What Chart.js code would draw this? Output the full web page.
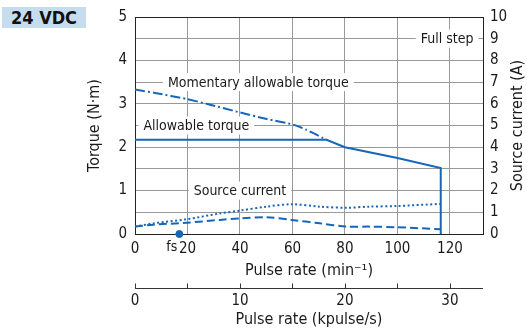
<!DOCTYPE html>
<html>
<head>
<meta charset="utf-8">
<script src="https://cdn.jsdelivr.net/npm/chart.js@4.4.0/dist/chart.umd.min.js"></script>
<style>
  html, body { margin:0; padding:0; background:#fff; }
  #wrap { position:relative; width:527px; height:329px; }
  #badge {
    position:absolute; left:2px; top:7px; width:84px; height:21px;
    background:#c6ddef; color:#111; text-align:center; line-height:22px;
    font:bold 18px "Liberation Sans Narrow", "DejaVu Sans Condensed", sans-serif;
  }
</style>
</head>
<body>
<div id="wrap">
  <canvas id="graphicFirst" width="527" height="329"></canvas>
  <div id="badge">24 VDC</div>
</div>
<script>
const FONT = '"Liberation Sans Narrow", "DejaVu Sans Condensed", sans-serif';
const BLUE = '#1767b8';

//-----Data (pulse rate min^-1, torque N·m, current A)
const allowRate = [0, 73, 80, 100, 116.5, 116.5];
const allowTorque = [2.17, 2.17, 2.0, 1.75, 1.52, 0];

const momentRate = [0, 7.6, 19.7, 28.6, 40, 50.2, 60.3, 65.4, 71.7, 73];
const momentTorque = [3.33, 3.25, 3.11, 2.98, 2.80, 2.65, 2.52, 2.40, 2.21, 2.17];

const currentRate = [0, 7, 19.7, 32.4, 40, 50, 59.7, 70.5, 80.6, 89, 100, 116.5];
const currentFull = [0.34, 0.49, 0.68, 0.95, 1.08, 1.26, 1.37, 1.26, 1.21, 1.26, 1.29, 1.39];
const currentHalf = [0.34, 0.43, 0.52, 0.65, 0.72, 0.77, 0.65, 0.49, 0.34, 0.34, 0.31, 0.22];

const fsRate = 16.9;
const rateMax = 132.6;
const kpulsePerRate = 0.25;

//-----Notes on the plot
const noteText = ['Momentary allowable torque', 'Allowable torque', 'Source current', 'Full step'];
const noteRate = [47, 23.4, 40, 118.9];
const noteTorque = [3.5, 2.5, 1.0, 4.5];

function toPoints(xs, ys){
  return xs.map((v, i) => ({x: v, y: ys[i]}));
}

const overlay = {
  id: 'overlay',
  beforeDatasetsDraw(chart){
    const ctx = chart.ctx;
    const sx = chart.scales.x, sy = chart.scales.y;
    ctx.save();
    ctx.font = '14px ' + FONT;
    ctx.textAlign = 'center';
    ctx.textBaseline = 'middle';
    noteText.forEach((t, i) => {
      const px = sx.getPixelForValue(noteRate[i]);
      const py = sy.getPixelForValue(noteTorque[i]);
      const w = ctx.measureText(t).width + 10;
      ctx.fillStyle = '#fff';
      ctx.fillRect(px - w / 2, py - 9, w, 18);
      ctx.fillStyle = '#1a1a1a';
      ctx.fillText(t, px, py + 1);
    });
    ctx.restore();
  },
  afterDraw(chart){
    const ctx = chart.ctx;
    const a = chart.chartArea;
    const s2 = chart.scales.x2;
    ctx.save();
    ctx.strokeStyle = '#222';
    ctx.lineWidth = 1;
    //top frame
    ctx.beginPath();
    ctx.moveTo(a.left, Math.round(a.top) + 0.5);
    ctx.lineTo(a.right, Math.round(a.top) + 0.5);
    ctx.stroke();
    //second axis line + ticks
    const ly = Math.round(s2.top + 8) + 0.5;
    ctx.strokeStyle = '#333';
    ctx.beginPath();
    ctx.moveTo(s2.left, ly);
    ctx.lineTo(s2.right, ly);
    s2.ticks.forEach(t => {
      const px = Math.round(s2.getPixelForValue(t.value)) + 0.5;
      ctx.moveTo(px, ly - 5);
      ctx.lineTo(px, ly);
    });
    ctx.stroke();
    //fs label
    ctx.font = '14px ' + FONT;
    ctx.fillStyle = '#1a1a1a';
    ctx.textAlign = 'right';
    ctx.textBaseline = 'middle';
    ctx.fillText('fs', chart.scales.x.getPixelForValue(fsRate) - 2, a.bottom + 13);
    //right axis title, read bottom to top like the left one
    const r = chart.scales.y2;
    ctx.translate(r.right - 9, (a.top + a.bottom) / 2);
    ctx.rotate(-Math.PI / 2);
    ctx.font = '16px ' + FONT;
    ctx.textAlign = 'center';
    ctx.fillText('Source current (A)', 0, 0);
    ctx.restore();
  }
};

Chart.defaults.font.family = FONT;
Chart.defaults.color = '#1a1a1a';

const ctx = document.getElementById('graphicFirst').getContext('2d');
const chart1 = new Chart(ctx, {
  type: 'line',
  data: {
    datasets: [
      {
        data: toPoints(allowRate, allowTorque),
        borderColor: BLUE, borderWidth: 2, pointRadius: 0, tension: 0, yAxisID: 'y',
      },
      {
        data: toPoints(momentRate, momentTorque),
        borderColor: BLUE, borderWidth: 2, borderDash: [10, 3, 2, 3], pointRadius: 0, tension: 0.2, yAxisID: 'y',
      },
      {
        data: toPoints(currentRate, currentFull),
        borderColor: BLUE, borderWidth: 2, borderDash: [2, 2.5], pointRadius: 0, tension: 0.3, yAxisID: 'y2',
      },
      {
        data: toPoints(currentRate, currentHalf),
        borderColor: BLUE, borderWidth: 2, borderDash: [8, 4], pointRadius: 0, tension: 0.3, yAxisID: 'y2',
      },
      {
        type: 'scatter',
        data: [{x: fsRate, y: 0}],
        backgroundColor: BLUE, borderColor: BLUE, pointRadius: 3.5, clip: false, yAxisID: 'y',
      },
    ]
  },
  options: {
    responsive: false,
    animation: false,
    layout: { padding: { left: 84, top: 17, right: 0, bottom: 0 } },
    plugins: { legend: { display: false }, tooltip: { enabled: false } },
    scales: {
      x: {
        type: 'linear', position: 'bottom', min: 0, max: rateMax,
        ticks: { stepSize: 20, includeBounds: false, padding: 6, maxRotation: 0, font: { size: 15 } },
        grid: { color: '#999', drawTicks: false },
        border: { color: '#222' },
        title: { display: true, text: 'Pulse rate (min⁻¹)', font: { size: 16 }, padding: 0 },
        afterFit: s => { s.height = 46; },
      },
      x2: {
        type: 'linear', position: 'bottom', min: 0, max: rateMax * kpulsePerRate,
        ticks: { stepSize: 5, includeBounds: false, padding: 12, maxRotation: 0, font: { size: 15 },
          callback: v => v % 10 === 0 ? v : '' },
        grid: { display: false, drawTicks: false },
        border: { display: false },
        title: { display: true, text: 'Pulse rate (kpulse/s)', font: { size: 16 }, padding: 0 },
        afterFit: s => { s.height = 49; },
      },
      y: {
        position: 'left', min: 0, max: 5,
        ticks: { stepSize: 0.5, padding: 8, font: { size: 15 },
          callback: v => Number.isInteger(v) ? v : '' },
        grid: { color: '#999', drawTicks: false },
        border: { color: '#222' },
        title: { display: true, text: 'Torque (N·m)', font: { size: 16 }, padding: 1 },
        afterFit: s => { s.width = 51; },
      },
      y2: {
        position: 'right', min: 0, max: 10,
        ticks: { stepSize: 1, padding: 7, font: { size: 15 } },
        grid: { drawOnChartArea: false, drawTicks: false },
        border: { color: '#222' },
        title: { display: false },
        afterFit: s => { s.width = 44; },
      },
    }
  },
  plugins: [overlay],
});
</script>
</body>
</html>
